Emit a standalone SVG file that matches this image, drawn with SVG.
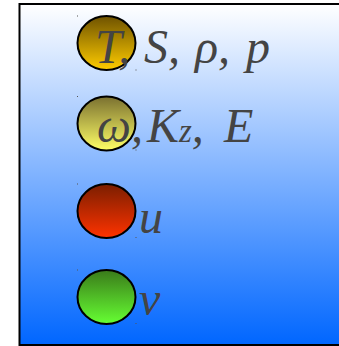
<svg xmlns="http://www.w3.org/2000/svg" width="339" height="346" viewBox="0 0 339 346">
<defs>
<linearGradient id="bg" x1="0" y1="0" x2="0" y2="1">
<stop offset="0" stop-color="#ffffff"/>
<stop offset="1" stop-color="#0066ff"/>
</linearGradient>
<linearGradient id="g1" x1="0" y1="0" x2="0" y2="1">
<stop offset="0" stop-color="#6e5200"/>
<stop offset="1" stop-color="#ffcc00"/>
</linearGradient>
<linearGradient id="g2" x1="0" y1="0" x2="0" y2="1">
<stop offset="0" stop-color="#7a7030"/>
<stop offset="1" stop-color="#ffff66"/>
</linearGradient>
<linearGradient id="g3" x1="0" y1="0" x2="0" y2="1">
<stop offset="0" stop-color="#7a1e00"/>
<stop offset="1" stop-color="#ff3300"/>
</linearGradient>
<linearGradient id="g4" x1="0" y1="0" x2="0" y2="1">
<stop offset="0" stop-color="#3a7a1a"/>
<stop offset="1" stop-color="#66ff33"/>
</linearGradient>
</defs>
<style>
.c{stroke:#000;stroke-width:2}
.t{font-family:"Liberation Serif","Times New Roman",serif;font-style:italic;font-size:48px;fill:#444}
.d{fill:#555}
</style>
<rect x="19.5" y="4" width="321" height="341" fill="url(#bg)" stroke="#000" stroke-width="2"/>
<g id="connectors"/>
<g id="n1">
<rect class="d" x="77" y="15.5" width="1" height="1"/>
<rect class="d" x="135.5" y="69.5" width="1" height="1"/>
<ellipse class="c" cx="106.5" cy="43" rx="29" ry="27" fill="url(#g1)"/>
<text class="t" y="63"><tspan x="95">T,</tspan><tspan x="144">S,</tspan><tspan x="195">ρ,</tspan><tspan x="246">p</tspan></text>
</g>
<g id="n2">
<rect class="d" x="77" y="96" width="1" height="1"/>
<rect class="d" x="135.5" y="149.5" width="1" height="1"/>
<ellipse class="c" cx="106.5" cy="123.5" rx="29" ry="27" fill="url(#g2)"/>
<text class="t" y="142"><tspan x="97">ω,</tspan><tspan x="147">K</tspan><tspan font-size="33">z</tspan>,<tspan x="224">E</tspan></text>
</g>
<g id="n3">
<rect class="d" x="77" y="183.5" width="1" height="1"/>
<rect class="d" x="135.5" y="237" width="1" height="1"/>
<ellipse class="c" cx="106.5" cy="211" rx="29" ry="27" fill="url(#g3)"/>
<text class="t" x="139" y="233">u</text>
</g>
<g id="n4">
<rect class="d" x="77" y="269.5" width="1" height="1"/>
<rect class="d" x="135.5" y="323" width="1" height="1"/>
<ellipse class="c" cx="106.5" cy="297" rx="29" ry="27" fill="url(#g4)"/>
<text class="t" x="139" y="315">v</text>
</g>
</svg>
